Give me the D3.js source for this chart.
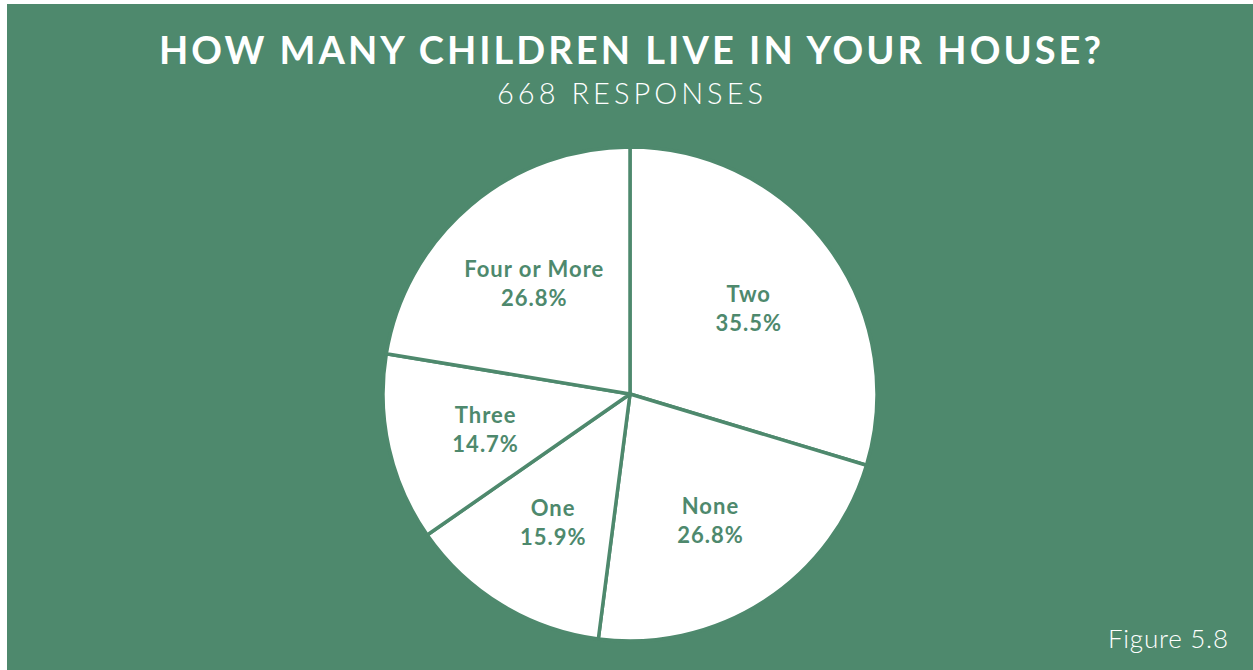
<!DOCTYPE html>
<html>
<head>
<meta charset="utf-8">
<script src="https://cdn.jsdelivr.net/npm/d3@7"></script>
<style>
  html, body { margin: 0; padding: 0; background: #ffffff; }
  svg { display: block; }
</style>
</head>
<body>
<svg id="chart" width="1253" height="670"></svg>
<script>
const categories = ["Two", "None", "One", "Three", "Four or More"];
const values = [35.5, 26.8, 15.9, 14.7, 26.8];
const labels = ["35.5%", "26.8%", "15.9%", "14.7%", "26.8%"];
const titleText = "HOW MANY CHILDREN LIVE IN YOUR HOUSE?";
const subtitleText = "668 RESPONSES";
const figureText = "Figure 5.8";

const green = "#4e896d";
const W = 1253, H = 670;
const svg = d3.select("#chart");

svg.append("rect").attr("x", 7).attr("y", 4).attr("width", W - 7).attr("height", H - 4).attr("fill", green);

svg.append("text")
  .attr("x", 630).attr("y", 64)
  .attr("text-anchor", "middle")
  .attr("font-family", "Lato, 'Open Sans', sans-serif")
  .attr("font-weight", 700)
  .attr("font-size", 38)
  .attr("fill", "#ffffff")
  .attr("textLength", 942)
  .attr("lengthAdjust", "spacing")
  .text(titleText);

svg.append("text")
  .attr("x", 630).attr("y", 104)
  .attr("text-anchor", "middle")
  .attr("font-family", "Lato, 'Open Sans', sans-serif")
  .attr("font-weight", 300)
  .attr("font-size", 29)
  .attr("fill", "#ffffff")
  .attr("textLength", 266)
  .attr("lengthAdjust", "spacing")
  .text(subtitleText);

svg.append("text")
  .attr("x", 1228).attr("y", 648)
  .attr("text-anchor", "end")
  .attr("font-family", "Lato, 'Open Sans', sans-serif")
  .attr("font-weight", 300)
  .attr("font-size", 26)
  .attr("fill", "#ffffff")
  .attr("textLength", 120)
  .attr("lengthAdjust", "spacing")
  .text(figureText);

const cx = 630, cy = 394, R = 247;
const data = categories.map((c, i) => ({ cat: c, value: values[i], label: labels[i] }));
const pie = d3.pie().sort(null).value(d => d.value);
const arcs = pie(data);
const arc = d3.arc().innerRadius(0).outerRadius(R);
const labelArc = d3.arc().innerRadius(148).outerRadius(148);

const g = svg.append("g").attr("transform", `translate(${cx},${cy})`);
g.selectAll("path").data(arcs).join("path")
  .attr("d", arc)
  .attr("fill", "#ffffff")
  .attr("stroke", green)
  .attr("stroke-width", 3.5)
  .attr("stroke-linejoin", "round");

const lg = g.selectAll("g.lbl").data(arcs).join("g")
  .attr("class", "lbl")
  .attr("transform", d => `translate(${labelArc.centroid(d)})`);
lg.append("text")
  .attr("text-anchor", "middle")
  .attr("y", -4)
  .attr("font-family", "Lato, 'Open Sans', sans-serif")
  .attr("font-weight", 700)
  .attr("font-size", 22)
  .attr("letter-spacing", 1)
  .attr("fill", green)
  .text(d => d.data.cat);
lg.append("text")
  .attr("text-anchor", "middle")
  .attr("y", 25)
  .attr("font-family", "Lato, 'Open Sans', sans-serif")
  .attr("font-weight", 700)
  .attr("font-size", 22)
  .attr("letter-spacing", 1)
  .attr("fill", green)
  .text(d => d.data.label);
</script>
</body>
</html>
